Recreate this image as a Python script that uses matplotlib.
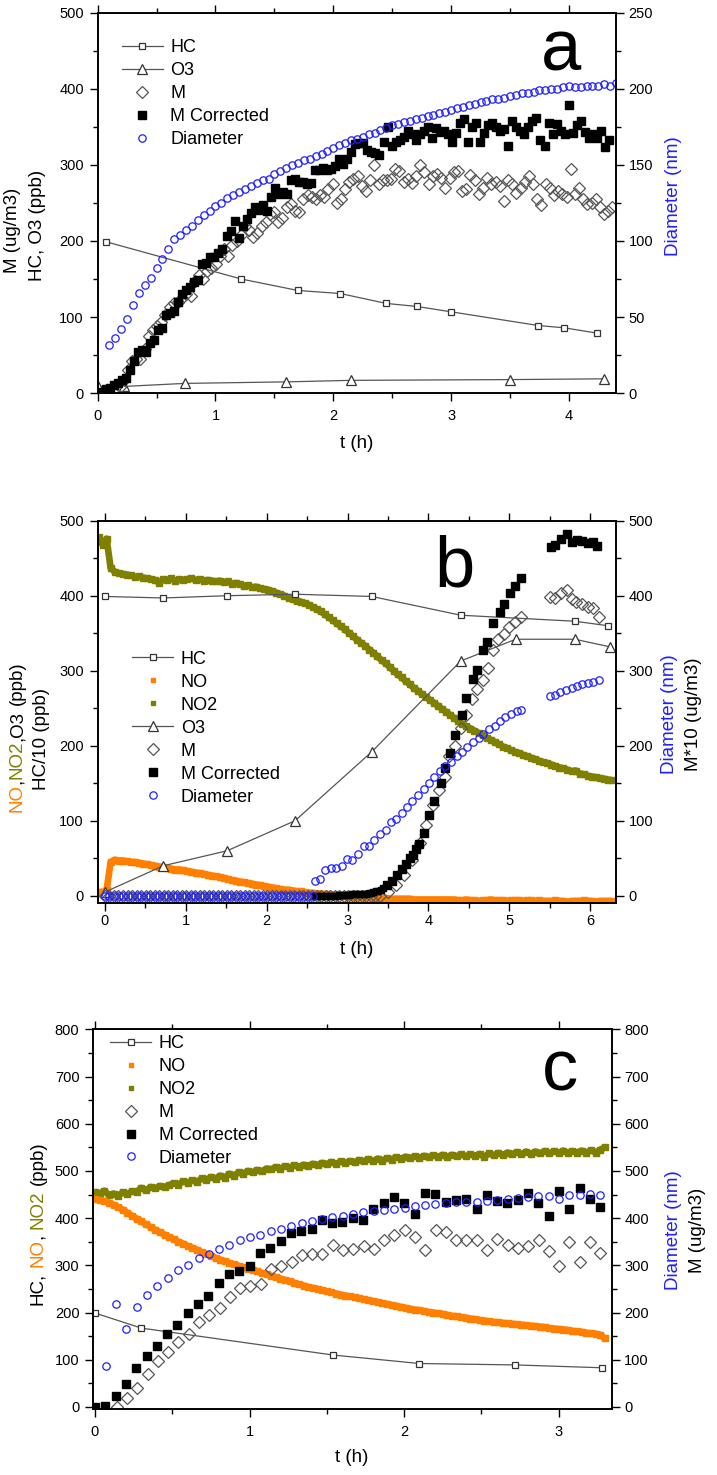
import numpy as np
import matplotlib
matplotlib.use("Agg")
import matplotlib.pyplot as plt
from matplotlib.lines import Line2D
from matplotlib.ticker import MultipleLocator

plt.rcParams['font.family'] = ['Liberation Sans', 'DejaVu Sans']

# -----------------------------
# Data, panel a
# -----------------------------
hc_a_t = [0.07, 1.22, 1.70, 2.06, 2.45, 2.71, 3.00, 3.74, 3.96, 4.24]
hc_a = [199, 150, 135, 131, 118, 114, 107, 89, 86, 79]
o3_a_t = [0.0, 0.22, 0.74, 1.60, 2.15, 3.50, 4.30]
o3_a = [9, 9, 13, 15, 17, 18, 19]

mcorr_a = [0, 2, 5, 7, 11, 14, 18, 20, 31, 42,
           54, 57, 54, 66, 70, 83, 86, 103, 105, 108,
           120, 131, 135, 140, 146, 149, 170, 171, 179, 179,
           184, 190, 206, 213, 226, 204, 220, 229, 237, 245,
           241, 247, 240, 258, 269, 262, 264, 262, 280, 281,
           278, 277, 275, 276, 293, 293, 296, 293, 294, 298,
           308, 301, 308, 317, 327, 329, 328, 320, 317, 315,
           313, 330, 350, 325, 330, 333, 337, 345, 340, 332,
           340, 345, 350, 335, 348, 343, 345, 340, 330, 342,
           355, 360, 330, 350, 355, 330, 342, 352, 355, 350,
           345, 347, 325, 357, 350, 345, 340, 350, 357, 362,
           332, 325, 355, 340, 353, 345, 340, 378, 342, 352,
           357, 343, 335, 340, 335, 345, 323, 333]
m_a = [2, 8, 18, 30, 42, 45, 45, 58, 75, 83,
       88, 93, 103, 113, 118, 120, 125, 130, 128, 148,
       155, 150, 160, 165, 170, 180, 190, 180, 195, 200,
       208, 220, 215, 205, 210, 220, 225, 235, 238, 225,
       230, 245, 248, 240, 238, 255, 260, 258, 255, 260,
       258, 268, 275, 250, 255, 268, 278, 282, 285, 272,
       265, 280, 300, 275, 280, 280, 282, 295, 292, 278,
       282, 276, 285, 300, 290, 275, 285, 288, 283, 270,
       283, 290, 292, 265, 268, 287, 280, 262, 270, 283,
       275, 277, 272, 253, 280, 275, 263, 270, 278, 285,
       275, 255, 247, 275, 270, 260, 265, 262, 258, 295,
       262, 270, 255, 248, 250, 255, 245, 235, 240, 245]
diam_a = [32, 36, 42, 49, 58, 66, 71, 76, 82, 88,
          95, 101, 104, 107, 110, 114, 117, 120, 123, 125,
          128, 130, 132, 134, 136, 138, 140, 141, 144, 146,
          148, 150, 151, 153, 154, 156, 157, 159, 161, 163,
          164, 166, 167, 168, 170, 171, 173, 174, 176, 177,
          178, 179, 180, 181, 182, 183, 184, 185, 186, 187,
          188, 189, 190, 191, 192, 193, 193, 194, 195, 196,
          197, 197, 198, 199, 199, 200, 200, 201, 202, 201,
          201, 202, 202, 202, 203, 202, 204]
# sampling grids of the instruments (start, end)
mcorr_a_t = np.linspace(0.0, 4.34, len(mcorr_a))
m_a_t = np.linspace(0.15, 4.37, len(m_a))
diam_a_t = np.linspace(0.10, 4.40, len(diam_a))

# -----------------------------
# Data, panel b
# -----------------------------
hc_b_t = [0.0, 0.72, 1.51, 2.35, 3.30, 4.40, 5.81, 6.22]
hc_b = [399, 397, 400, 402, 399, 374, 366, 360]   # HC/10
o3_b_t = [0.0, 0.72, 1.51, 2.35, 3.30, 4.40, 5.08, 5.81, 6.24]
o3_b = [5, 40, 60, 100, 192, 313, 342, 342, 332]

no_b = [5, 5, 8, 45, 48, 47, 47, 46, 45, 45,
        44, 43, 42, 41, 40, 39, 38, 37, 36, 35,
        35, 34, 33, 32, 31, 30, 29, 28, 27, 26,
        25, 24, 22, 21, 20, 19, 18, 17, 16, 15,
        14, 13, 12, 11, 10, 9, 8, 8, 7, 6,
        6, 5, 4, 4, 3, 3, 2, 2, 1, 1,
        0, 0, -1, -1, -1, -2, -2, -2, -3, -3,
        -3, -3, -4, -4, -4, -4, -4, -4, -5, -5,
        -5, -5, -5, -5, -5, -5, -5, -5, -5, -6,
        -6, -5, -6, -6, -7, -6, -6, -5, -6, -6,
        -6, -7, -6, -6, -6, -7, -6, -6, -7, -6,
        -7, -7, -7, -6, -7, -7, -8, -7, -7, -7,
        -6, -7, -7, -8, -7, -7, -7, -7]
no2_b = [478, 468, 476, 437, 432, 430, 429, 428, 427, 425,
         426, 424, 423, 422, 421, 417, 422, 421, 423, 420,
         422, 421, 422, 423, 421, 422, 420, 421, 420, 419,
         420, 418, 419, 416, 417, 415, 413, 414, 411, 412,
         410, 409, 408, 406, 404, 402, 400, 397, 395, 393,
         392, 390, 388, 385, 382, 379, 375, 371, 367, 363,
         359, 355, 350, 346, 341, 337, 333, 328, 324, 319,
         314, 310, 305, 300, 295, 291, 286, 282, 277, 273,
         269, 265, 261, 257, 253, 249, 245, 241, 237, 233,
         229, 226, 223, 220, 217, 214, 211, 208, 205, 202,
         199, 197, 194, 192, 190, 188, 186, 184, 182, 180,
         178, 177, 175, 173, 171, 170, 168, 166, 167, 163,
         162, 160, 159, 158, 157, 156, 155, 154]
gas_b_t = np.linspace(-0.08, 6.27, len(no2_b))

# M*10, Diameter: zero readings before growth starts
m_b_zero = [0, 0, 0, 0, 0, 0, 0, 0, 0, 0, 0, 0, 0, 0, 0, 0, 0, 0, 0, 0,
            0, 0, 0, 0, 0, 0, 0, 0, 0, 0, 0, 0, 0, 0, 0, 0, 0, 0, 0, 0,
            0, 0, 0, 0, 0, 0, 0, 0, 0, 0, 0, 0, 0, 0, 0, 0, 0, 0, 0, 0,
            0, 0]
m_b_zero_t = np.linspace(0.0, 3.40, len(m_b_zero))
m_b_t = [3.50, 3.60, 3.70, 3.80, 3.90, 3.97, 4.06, 4.13, 4.20, 4.26,
         4.33, 4.40, 4.47, 4.54, 4.60, 4.67, 4.74, 4.80, 4.86, 4.93,
         5.00, 5.07, 5.14, 5.50, 5.57, 5.64, 5.71, 5.77, 5.82, 5.90,
         5.97, 6.04, 6.11]
m_b = [5, 15, 28, 48, 70, 95, 121, 141, 159, 186,
       200, 224, 241, 262, 275, 287, 304, 327, 342, 349,
       358, 365, 371, 398, 397, 403, 407, 395, 392, 389,
       385, 383, 371]

mcorr_b_low = [0, 0, 0, 0, 0, 0, 0, 0, 0, 0, 1, 1, 1, 1, 1,
               2, 2, 2, 2, 3, 3, 3, 4, 4, 5, 6, 7, 8, 10]
mcorr_b_low_t = np.linspace(2.60, 3.44, len(mcorr_b_low))
mcorr_b_t = [3.49, 3.55, 3.61, 3.67, 3.72, 3.77, 3.81, 3.85, 3.88, 3.94,
             4.01, 4.07, 4.15, 4.21, 4.27, 4.33, 4.41, 4.47, 4.55, 4.60,
             4.67, 4.73, 4.80, 4.88, 4.94, 5.01, 5.07, 5.14, 5.51, 5.57,
             5.64, 5.71, 5.78, 5.84, 5.90, 5.97, 6.03, 6.09]
mcorr_b = [14, 20, 28, 36, 43, 50, 54, 62, 69, 84,
           108, 126, 150, 170, 190, 215, 241, 263, 289, 301,
           328, 338, 364, 378, 389, 404, 413, 423, 465, 468,
           476, 482, 472, 474, 473, 470, 472, 466]

diam_b_zero = [0, 0, 0, 0, 0, 0, 0, 0, 0, 0, 0, 0, 0, 0, 0, 0,
               0, 0, 0, 0, 0, 0, 0, 0, 0, 0, 0, 0, 0, 0, 0, 0,
               0, 0, 0, 0, 0, 0, 0, 0, 0, 0, 0, 0, 0, 0, 0]
diam_b_zero_t = np.linspace(0.0, 2.57, len(diam_b_zero))
diam_b_t = [2.60, 2.66, 2.72, 2.79, 2.86, 2.93, 2.99, 3.06, 3.13, 3.20,
            3.26, 3.33, 3.40, 3.47, 3.54, 3.60, 3.67, 3.74, 3.80, 3.87,
            3.94, 4.01, 4.07, 4.14, 4.21, 4.28, 4.35, 4.41, 4.48, 4.55,
            4.62, 4.68, 4.75, 4.82, 4.89, 4.95, 5.02, 5.09, 5.15,
            5.50, 5.56, 5.63, 5.70, 5.77, 5.84, 5.90, 5.97, 6.04, 6.11]
diam_b = [20, 23, 35, 37, 37, 40, 49, 48, 56, 66,
          66, 75, 83, 88, 98, 102, 110, 119, 126, 134,
          142, 151, 158, 166, 173, 179, 186, 192, 198, 205,
          211, 216, 222, 227, 233, 238, 242, 246, 248,
          266, 267, 271, 274, 277, 280, 282, 284, 285, 287]

# -----------------------------
# Data, panel c
# -----------------------------
hc_c_t = [0.0, 0.30, 1.54, 2.10, 2.72, 3.28]
hc_c = [199, 167, 110, 92, 89, 83]

no2_c = [456, 452, 458, 449, 452, 447, 455, 451, 457, 456,
         464, 459, 466, 463, 468, 466, 470, 474, 471, 478,
         475, 480, 477, 484, 481, 487, 483, 490, 486, 494,
         490, 497, 494, 500, 497, 502, 499, 505, 503, 508,
         505, 510, 507, 512, 509, 513, 511, 515, 512, 517,
         514, 519, 515, 520, 517, 521, 518, 523, 520, 525,
         521, 526, 522, 527, 524, 529, 526, 530, 527, 531,
         528, 532, 529, 533, 530, 534, 530, 534, 531, 535,
         531, 535, 532, 536, 530, 537, 533, 538, 534, 539,
         535, 540, 535, 541, 536, 541, 537, 542, 537, 542,
         538, 543, 538, 542, 539, 543, 538, 544, 539, 545, 550]
no_c = [440, 438, 436, 433, 428, 423, 418, 411, 405, 399,
        393, 387, 381, 375, 370, 365, 360, 355, 350, 346,
        341, 337, 333, 328, 324, 320, 316, 312, 309, 305,
        302, 299, 296, 293, 290, 287, 284, 281, 278, 275,
        272, 269, 266, 263, 260, 257, 254, 252, 250, 247,
        245, 243, 240, 238, 236, 234, 232, 230, 228, 226,
        224, 222, 220, 218, 216, 214, 212, 210, 208, 206,
        205, 203, 201, 200, 198, 197, 195, 193, 192, 190,
        189, 187, 186, 184, 183, 181, 180, 179, 178, 177,
        176, 175, 174, 173, 172, 171, 170, 169, 167, 166,
        165, 164, 163, 161, 160, 159, 157, 156, 155, 153, 145]
gas_c_t = np.linspace(0.0, 3.30, len(no2_c))

mcorr_c = [0, 3, 24, 49, 82, 107, 130, 155, 174, 200,
           219, 236, 262, 282, 289, 298, 327, 336, 351, 368,
           373, 377, 396, 389, 392, 401, 396, 420, 433, 444,
           432, 408, 453, 452, 435, 439, 441, 419, 448, 437,
           432, 439, 454, 432, 405, 458, 420, 463, 440, 423]
m_c = [0, 19, 40, 70, 97, 116, 137, 154, 179, 195,
       210, 232, 252, 257, 261, 292, 298, 306, 321, 325,
       324, 344, 333, 334, 340, 334, 354, 365, 375, 360,
       333, 375, 370, 354, 354, 354, 333, 356, 344, 337,
       340, 353, 330, 299, 349, 308, 349, 326]
diam_c = [87, 218, 166, 212, 238, 257, 274, 291, 300, 315,
          324, 334, 344, 353, 360, 365, 372, 377, 384, 389,
          394, 398, 402, 405, 409, 413, 416, 418, 419, 421,
          425, 428, 430, 433, 435, 435, 435, 437, 439, 440,
          442, 444, 446, 447, 441, 449, 449, 451, 449]
mcorr_c_t = np.linspace(0.0, 3.27, len(mcorr_c))
m_c_t = np.linspace(0.14, 3.27, len(m_c))
diam_c_t = np.linspace(0.07, 3.27, len(diam_c))

# -----------------------------
# Styles
# -----------------------------
ORANGE = '#ff7f00'
OLIVE = '#808000'
BLUE = '#1f1fff'
LINE = '#555555'

hc_style = dict(color=LINE, lw=0.9, marker='s', ms=5, mfc='white', mec='#333333', mew=0.9)
o3_style = dict(color=LINE, lw=0.9, marker='^', ms=6.5, mfc='white', mec='#333333', mew=0.9)
m_style = dict(ls='none', marker='D', ms=6, mfc='none', mec='#555555', mew=0.9)
mc_style = dict(ls='none', marker='s', ms=5.3, color='black')
d_style = dict(ls='none', marker='o', ms=5.3, mfc='none', mec=BLUE, mew=0.9)


def gas(ax, t, y, c):
    ax.plot(t, y, color=c, lw=4.8, marker='s', ms=4, solid_capstyle='butt')


def handles(names):
    lib = {
        'HC': Line2D([], [], **hc_style),
        'O3': Line2D([], [], **o3_style),
        'M': Line2D([], [], **m_style),
        'M Corrected': Line2D([], [], **mc_style),
        'Diameter': Line2D([], [], **d_style),
        'NO': Line2D([], [], ls='none', marker='s', ms=3.5, color=ORANGE),
        'NO2': Line2D([], [], ls='none', marker='s', ms=3.5, color=OLIVE),
    }
    return [lib[n] for n in names]


def style_axes(ax, ax2, xmaj, ymaj, ymaj2, xpad):
    for a in (ax, ax2):
        for s in a.spines.values():
            s.set_linewidth(1.2)
    ax.xaxis.set_major_locator(MultipleLocator(xmaj))
    ax.xaxis.set_minor_locator(MultipleLocator(xmaj / 2))
    ax.yaxis.set_major_locator(MultipleLocator(ymaj))
    ax.yaxis.set_minor_locator(MultipleLocator(ymaj / 2))
    ax2.yaxis.set_major_locator(MultipleLocator(ymaj2))
    ax2.yaxis.set_minor_locator(MultipleLocator(ymaj2 / 2))
    ax.tick_params(which='both', direction='out', top=True, right=False, labelsize=10.5, width=1)
    ax.tick_params(which='major', length=6)
    ax.tick_params(which='minor', length=3.5)
    ax.tick_params(axis='x', pad=xpad)
    ax.tick_params(axis='y', pad=4)
    ax2.tick_params(which='both', direction='out', labelsize=10.5, width=1, pad=3)
    ax2.tick_params(which='major', length=6)
    ax2.tick_params(which='minor', length=3.5)


def stacked_label(fig, x, yc, parts, size=13.5):
    # rotated label built from coloured pieces: (text, colour, gap after in em)
    r = fig.canvas.get_renderer()
    items = []
    total = 0
    for s, c, gap in parts:
        t = fig.text(x, yc, s, color=c, fontsize=size, rotation=90, ha='center', va='bottom')
        h = t.get_window_extent(r).height / fig.bbox.height
        g = gap * size / 72 * fig.dpi / fig.bbox.height
        items.append((t, h, g))
        total += h + g
    y = yc - total / 2
    for t, h, g in items:
        t.set_y(y)
        y += h + g


W, H = 717, 1475
fig = plt.figure(figsize=(W / 100, H / 100), dpi=100)


def rect(l, r, t, b):
    return [l / W, 1 - b / H, (r - l) / W, (b - t) / H]


LEG = dict(frameon=False, fontsize=13, handlelength=2.3, handletextpad=0.4,
           labelspacing=0.33, borderpad=0, borderaxespad=0)

# -----------------------------
# Panel a
# -----------------------------
ax = fig.add_axes(rect(97.7, 616, 12.5, 393.3))
ax2 = ax.twinx()
ax.plot(hc_a_t, hc_a, **hc_style)
ax.plot(o3_a_t, o3_a, **o3_style)
ax.plot(m_a_t, m_a, **m_style)
ax.plot(mcorr_a_t, mcorr_a, **mc_style)
ax2.plot(diam_a_t, diam_a, **d_style)
ax.set_xlim(0, 4.40)
ax.set_ylim(0, 500)
ax2.set_ylim(0, 250)
style_axes(ax, ax2, 1, 100, 50, 5)
names = ['HC', 'O3', 'M', 'M Corrected', 'Diameter']
ax2.legend(handles(names), names, loc='upper left', bbox_to_anchor=(0.046, 0.93), **LEG)
ax2.text(0.894, 0.848, 'a', transform=ax2.transAxes, fontsize=52, ha='center', va='baseline')

# -----------------------------
# Panel b
# -----------------------------
bx = fig.add_axes(rect(97.7, 616, 520.7, 903.3))
bx2 = bx.twinx()
gas(bx, gas_b_t, no_b, ORANGE)
gas(bx, gas_b_t, no2_b, OLIVE)
bx.plot(hc_b_t, hc_b, **hc_style)
bx.plot(o3_b_t, o3_b, **o3_style)
bx2.plot(m_b_zero_t, m_b_zero, **m_style)
bx2.plot(m_b_t, m_b, **m_style)
bx2.plot(mcorr_b_low_t, mcorr_b_low, ls='none', marker='s', ms=4, color='black')
bx2.plot(mcorr_b_t, mcorr_b, **mc_style)
bx2.plot(diam_b_zero_t, diam_b_zero, **d_style)
bx2.plot(diam_b_t, diam_b, **d_style)
bx.set_xlim(-0.09, 6.32)
bx.set_ylim(-10, 500)
bx2.set_ylim(-10, 500)
style_axes(bx, bx2, 1, 100, 100, 2)
names = ['HC', 'NO', 'NO2', 'O3', 'M', 'M Corrected', 'Diameter']
bx2.legend(handles(names), names, loc='upper left', bbox_to_anchor=(0.066, 0.66), **LEG)
bx2.text(0.689, 0.827, 'b', transform=bx2.transAxes, fontsize=52, ha='center', va='baseline')

# -----------------------------
# Panel c
# -----------------------------
cx = fig.add_axes(rect(93.3, 611.7, 1029.3, 1409.3))
cx2 = cx.twinx()
gas(cx, gas_c_t, no2_c, OLIVE)
gas(cx, gas_c_t, no_c, ORANGE)
cx.plot(hc_c_t, hc_c, **hc_style)
cx2.plot(m_c_t, m_c, **m_style)
cx2.plot(mcorr_c_t, mcorr_c, **mc_style)
cx2.plot(diam_c_t, diam_c, **d_style)
cx.set_xlim(-0.011, 3.344)
cx.set_ylim(-5, 800)
cx2.set_ylim(-5, 800)
style_axes(cx, cx2, 1, 100, 100, 5)
names = ['HC', 'NO', 'NO2', 'M', 'M Corrected', 'Diameter']
cx2.legend(handles(names), names, loc='upper left', bbox_to_anchor=(0.032, 0.985), **LEG)
cx2.text(0.90, 0.838, 'c', transform=cx2.transAxes, fontsize=52, ha='center', va='baseline')

# -----------------------------
# Axis titles
# -----------------------------
LS = 13.5
fig.text(13 / W, 1 - 230 / H, 'M (ug/m3)', rotation=90, fontsize=LS, ha='center', va='center')
fig.text(37 / W, 1 - 225 / H, 'HC, O3 (ppb)', rotation=90, fontsize=LS, ha='center', va='center')
fig.text(673 / W, 1 - 196 / H, 'Diameter (nm)', rotation=90, fontsize=LS, color=BLUE,
         ha='center', va='center')
fig.text(357 / W, 1 - 443 / H, 't (h)', fontsize=LS, ha='center', va='center')

stacked_label(fig, 17 / W, 1 - 737 / H,
              [('NO', ORANGE, 0), (',', 'black', 0), ('NO2', OLIVE, 0),
               (',O3', 'black', 0.28), ('(ppb)', 'black', 0)], LS)
fig.text(42 / W, 1 - 739 / H, 'HC/10 (ppb)', rotation=90, fontsize=LS, ha='center', va='center')
fig.text(670 / W, 1 - 714 / H, 'Diameter (nm)', rotation=90, fontsize=LS, color=BLUE,
         ha='center', va='center')
fig.text(694 / W, 1 - 714 / H, 'M*10 (ug/m3)', rotation=90, fontsize=LS, ha='center', va='center')
fig.text(357 / W, 1 - 950 / H, 't (h)', fontsize=LS, ha='center', va='center')

stacked_label(fig, 38 / W, 1 - 1223 / H,
              [('HC,', 'black', 0.28), ('NO', ORANGE, 0), (',', 'black', 0.28),
               ('NO2', OLIVE, 0.28), ('(ppb)', 'black', 0)], LS)
fig.text(673 / W, 1 - 1230 / H, 'Diameter (nm)', rotation=90, fontsize=LS, color=BLUE,
         ha='center', va='center')
fig.text(698 / W, 1 - 1230 / H, 'M (ug/m3)', rotation=90, fontsize=LS, ha='center', va='center')
fig.text(352 / W, 1 - 1457 / H, 't (h)', fontsize=LS, ha='center', va='center')

fig.savefig('out.png', dpi=100)
